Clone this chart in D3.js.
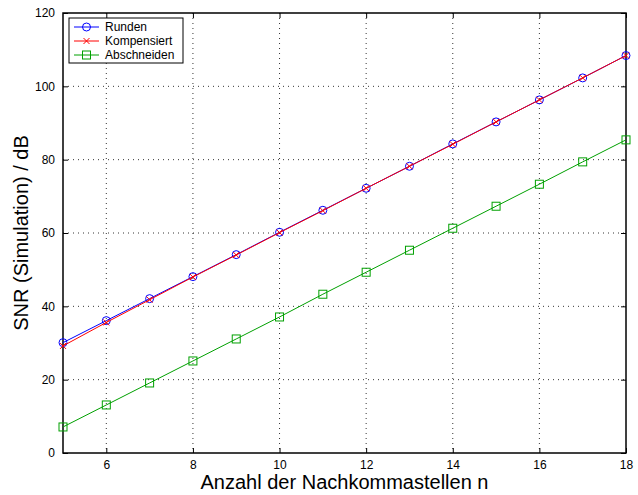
<!DOCTYPE html>
<html>
<head>
<meta charset="utf-8">
<script src="https://cdn.jsdelivr.net/npm/d3@7"></script>
<style>
  body { margin: 0; background: #fff; }
  text { font-family: "Liberation Sans", Arial, sans-serif; }
</style>
</head>
<body>
<svg id="chart" width="638" height="495"></svg>
<script>

/////////////////////////////////
// DATA
//////////////////////////////////

var nValues = [5, 6, 7, 8, 9, 10, 11, 12, 13, 14, 15, 16, 17, 18];
var runden = [30.1, 36.1, 42.1, 48.1, 54.1, 60.2, 66.2, 72.2, 78.2, 84.3, 90.3, 96.3, 102.3, 108.4];
var kompensiert = [29.2, 35.6, 41.8, 48.0, 54.0, 60.1, 66.1, 72.2, 78.2, 84.2, 90.3, 96.3, 102.3, 108.4];
var abschneiden = [7.1, 13.1, 19.1, 25.1, 31.1, 37.1, 43.3, 49.3, 55.3, 61.3, 67.3, 73.3, 79.4, 85.4];

var xTicks = [6, 8, 10, 12, 14, 16, 18];
var yTicks = [0, 20, 40, 60, 80, 100, 120];

var seriesNames = ["Runden", "Kompensiert", "Abschneiden"];
var seriesColors = ["#0000ff", "#ff0000", "#00a000"];
var seriesMarkers = ["circle", "cross", "square"];

/////////////////////////////////
// SETUP
//////////////////////////////////

var margin = {top: 13, right: 12, bottom: 42, left: 63};
var width = 638;
var height = 495;
var chartWidth = width - margin.left - margin.right;
var chartHeight = height - margin.top - margin.bottom;

var svg = d3.select("#chart");
var g = svg.append("g")
  .attr("transform", "translate(" + margin.left + "," + margin.top + ")");

var xScale = d3.scaleLinear().domain([5, 18]).range([0, chartWidth]);
var yScale = d3.scaleLinear().domain([0, 120]).range([chartHeight, 0]);

// grid
g.selectAll(".xgrid")
  .data(xTicks.filter(function(d) { return d < 18; }))
  .enter().append("line")
    .attr("x1", function(d) { return xScale(d); })
    .attr("x2", function(d) { return xScale(d); })
    .attr("y1", 0).attr("y2", chartHeight)
    .attr("stroke", "#000").attr("stroke-width", 0.8)
    .attr("stroke-dasharray", "1 4");

g.selectAll(".ygrid")
  .data(yTicks.filter(function(d) { return d > 0 && d < 120; }))
  .enter().append("line")
    .attr("y1", function(d) { return yScale(d); })
    .attr("y2", function(d) { return yScale(d); })
    .attr("x1", 0).attr("x2", chartWidth)
    .attr("stroke", "#000").attr("stroke-width", 0.8)
    .attr("stroke-dasharray", "1 4");

// axes (ticks inward, box with ticks on all sides)
var tickLen = 5;
g.append("g").attr("transform", "translate(0," + chartHeight + ")")
  .call(d3.axisBottom(xScale).tickValues(xTicks).tickSizeInner(-tickLen).tickSizeOuter(0).tickPadding(7));
g.append("g")
  .call(d3.axisTop(xScale).tickValues(xTicks).tickSizeInner(-tickLen).tickSizeOuter(0).tickFormat(""));
g.append("g")
  .call(d3.axisLeft(yScale).tickValues(yTicks).tickSizeInner(-tickLen).tickSizeOuter(0).tickPadding(8));
g.append("g").attr("transform", "translate(" + chartWidth + ",0)")
  .call(d3.axisRight(yScale).tickValues(yTicks).tickSizeInner(-tickLen).tickSizeOuter(0).tickFormat(""));

g.selectAll(".domain").remove();
g.selectAll(".tick line").attr("stroke", "#000");
g.selectAll(".tick text").attr("font-size", 12).attr("fill", "#000")
  .style("font-family", "'Liberation Sans', Arial, sans-serif");

g.append("rect")
  .attr("width", chartWidth).attr("height", chartHeight)
  .attr("fill", "none").attr("stroke", "#000").attr("stroke-width", 1.5);

/////////////////////////////////
// SERIES
//////////////////////////////////

var allSeries = [runden, kompensiert, abschneiden];

var line = d3.line()
  .x(function(d, i) { return xScale(nValues[i]); })
  .y(function(d) { return yScale(d); });

function drawMarker(sel, type, color, x, y) {
  if (type === "circle") {
    sel.append("circle").attr("cx", x).attr("cy", y).attr("r", 4)
      .attr("fill", "none").attr("stroke", color).attr("stroke-width", 1);
  } else if (type === "square") {
    sel.append("rect").attr("x", x - 4).attr("y", y - 4)
      .attr("width", 8).attr("height", 8)
      .attr("fill", "none").attr("stroke", color).attr("stroke-width", 1);
  } else {
    sel.append("path")
      .attr("d", "M" + (x - 3) + "," + (y - 3) + "L" + (x + 3) + "," + (y + 3) +
                 "M" + (x - 3) + "," + (y + 3) + "L" + (x + 3) + "," + (y - 3))
      .attr("stroke", color).attr("stroke-width", 1);
  }
}

allSeries.forEach(function(s, k) {
  g.append("path")
    .datum(s)
    .attr("d", line)
    .attr("fill", "none")
    .attr("stroke", seriesColors[k])
    .attr("stroke-width", 1);
  var mg = g.append("g");
  s.forEach(function(v, i) {
    drawMarker(mg, seriesMarkers[k], seriesColors[k], xScale(nValues[i]), yScale(v));
  });
});

/////////////////////////////////
// LABELS
//////////////////////////////////

svg.append("text")
  .attr("x", margin.left + chartWidth / 2)
  .attr("y", 489)
  .attr("text-anchor", "middle")
  .attr("font-size", 20)
  .text("Anzahl der Nachkommastellen n");

svg.append("text")
  .attr("transform", "translate(28," + (margin.top + chartHeight / 2) + ") rotate(-90)")
  .attr("text-anchor", "middle")
  .attr("font-size", 20)
  .text("SNR (Simulation) / dB");

/////////////////////////////////
// LEGEND
//////////////////////////////////

var legend = g.append("g").attr("transform", "translate(6,5)");
legend.append("rect")
  .attr("width", 114).attr("height", 45)
  .attr("fill", "#fff").attr("stroke", "#000").attr("stroke-width", 1);

seriesNames.forEach(function(name, k) {
  var ly = 9 + k * 14;
  legend.append("line")
    .attr("x1", 5).attr("x2", 30).attr("y1", ly).attr("y2", ly)
    .attr("stroke", seriesColors[k]).attr("stroke-width", 1);
  drawMarker(legend, seriesMarkers[k], seriesColors[k], 17.5, ly);
  legend.append("text")
    .attr("x", 36).attr("y", ly + 4)
    .attr("font-size", 12)
    .text(name);
});

</script>
</body>
</html>
